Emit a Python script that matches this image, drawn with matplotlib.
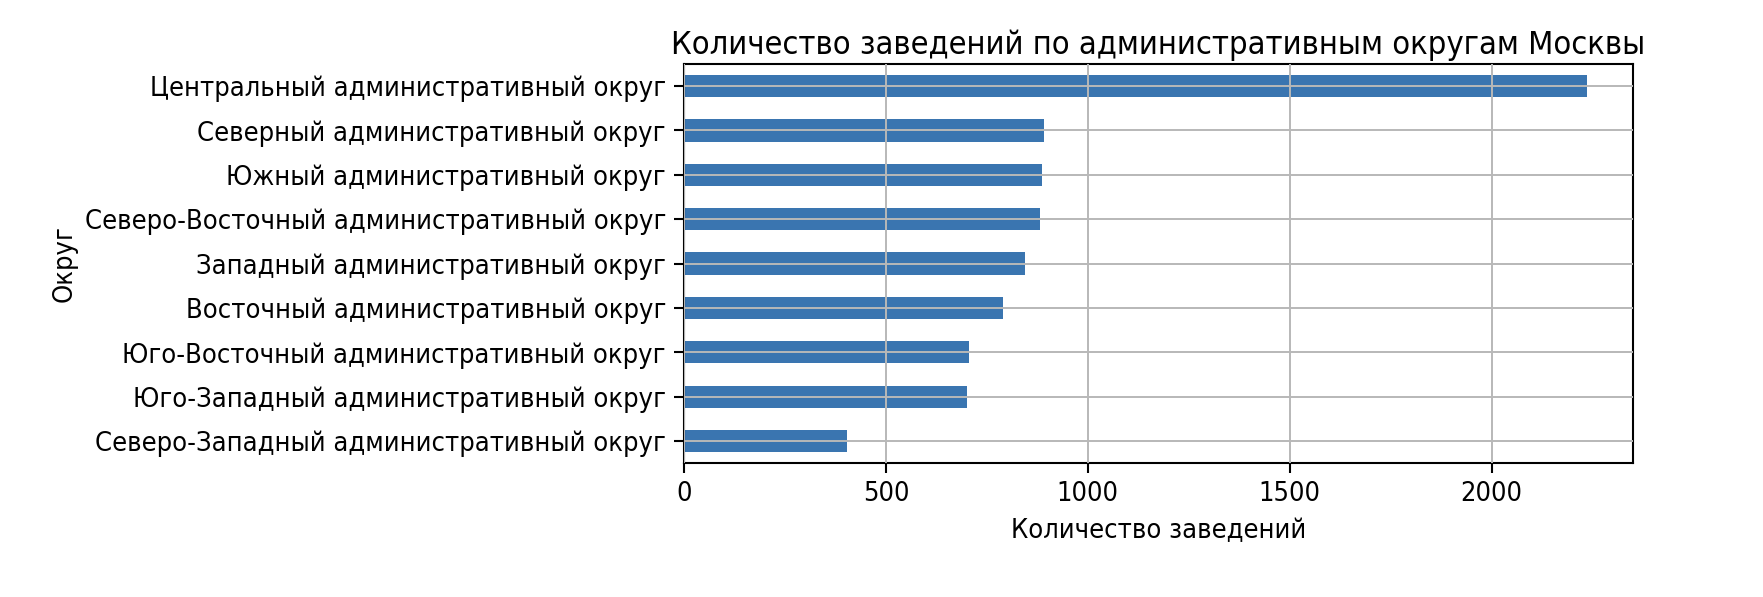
import matplotlib
matplotlib.use('Agg')
import matplotlib.pyplot as plt

districts = [
    'Центральный административный округ',
    'Северный административный округ',
    'Южный административный округ',
    'Северо-Восточный административный округ',
    'Западный административный округ',
    'Восточный административный округ',
    'Юго-Восточный административный округ',
    'Юго-Западный административный округ',
    'Северо-Западный административный округ',
]
counts = [2237, 892, 887, 881, 845, 789, 706, 700, 404]

plt.rcParams['font.family'] = ['DejaVu Sans']
plt.rcParams['font.stretch'] = 'condensed'

fig = plt.figure(figsize=(17.63, 5.97), dpi=100)
ax = fig.add_axes([0.388, 0.224, 0.538, 0.669])

# top bar first, so plot in reverse order
ypos = list(range(len(districts)))[::-1]
ax.barh(ypos, counts, height=0.5, color='#3a75b0')
ax.set_yticks(ypos)
ax.set_yticklabels(districts, fontsize=19.5)
ax.set_ylim(-0.5, len(districts) - 0.5)
ax.set_xlim(0, max(counts) * 1.05)
ax.set_xticks([0, 500, 1000, 1500, 2000])
ax.tick_params(axis='both', labelsize=19.5, length=7, width=1.5, pad=6)
ax.grid(True, color='#b8b8b8', linewidth=1.4)
ax.set_axisbelow(False)
for s in ax.spines.values():
    s.set_linewidth(1.5)

ax.set_title('Количество заведений по административным округам Москвы', fontsize=23.4, pad=7)
ax.set_xlabel('Количество заведений', fontsize=19.5)
ax.set_ylabel('Округ', fontsize=19.5)
ax.xaxis.set_label_coords(0.5, -0.137)
ax.yaxis.set_label_coords(-0.639, 0.5)

fig.savefig('out.png', dpi=100)
